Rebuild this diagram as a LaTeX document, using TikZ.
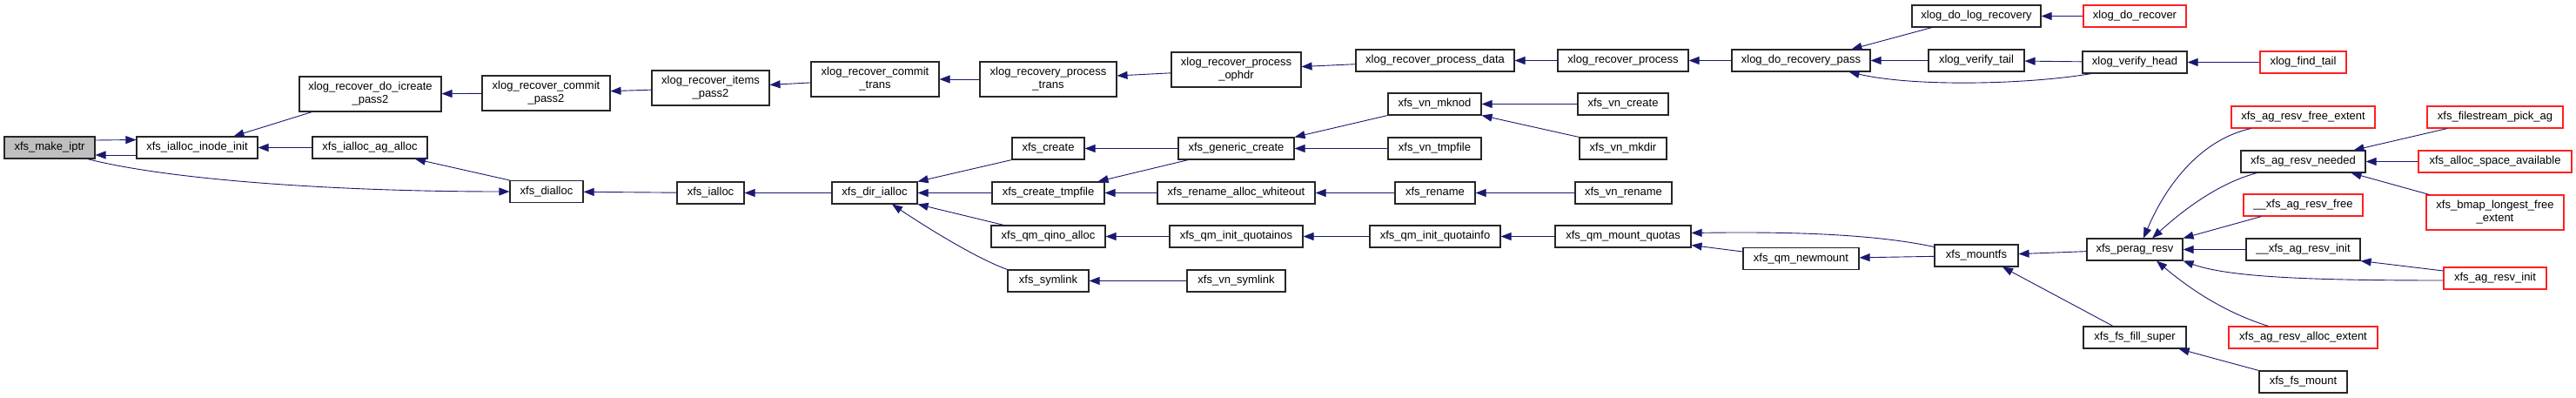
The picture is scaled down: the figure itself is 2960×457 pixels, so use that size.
\documentclass[tikz,border=0pt]{standalone}
\usepackage{fontspec}
\setmainfont{Liberation Sans}
\usetikzlibrary{arrows.meta}
\definecolor{edgeblue}{HTML}{191970}
\definecolor{boxred}{HTML}{FF2020}
\tikzset{
  fn/.style={draw=black!85, line width=1.1pt, minimum height=25pt, inner sep=0pt,
    align=center, font=\fontsize{13}{15}\selectfont},
  fnr/.style={fn, draw=boxred},
  w/.style={minimum width=#1pt},
  cedge/.style={edgeblue, line width=0.9pt, {Triangle[length=12pt,width=9pt]}-},
  cfwd/.style={edgeblue, line width=0.9pt, -{Triangle[length=12pt,width=9pt]}}
}
\begin{document}
\begin{tikzpicture}[x=1pt, y=-1pt]
  \useasboundingbox (0,0) rectangle (2960,457);
  % nodes, column by column
  \node[fn, w=104, fill=black!25] (make) at (57,169.5) {xfs\_make\_iptr};
  \node[fn, w=139] (inodeinit) at (226.5,169.5) {xfs\_ialloc\_inode\_init};
  \node[fn, w=163, minimum height=40pt] (icreate) at (425.5,108) {xlog\_recover\_do\_icreate\\\_pass2};
  \node[fn, w=132] (agalloc) at (425,169.5) {xfs\_ialloc\_ag\_alloc};
  \node[fn, w=147, minimum height=40pt] (commitpass) at (627.5,107) {xlog\_recover\_commit\\\_pass2};
  \node[fn, w=84] (dialloc) at (628,220) {xfs\_dialloc};
  \node[fn, w=135, minimum height=40pt] (itemspass) at (816.5,101) {xlog\_recover\_items\\\_pass2};
  \node[fn, w=77] (ialloc) at (816.5,221.5) {xfs\_ialloc};
  \node[fn, w=147, minimum height=40pt] (committrans) at (1005.5,91) {xlog\_recover\_commit\\\_trans};
  \node[fn, w=98] (dirialloc) at (1005,221.5) {xfs\_dir\_ialloc};
  \node[fn, w=157, minimum height=40pt] (proctrans) at (1204.5,91) {xlog\_recovery\_process\\\_trans};
  \node[fn, w=83] (create) at (1204.5,170.5) {xfs\_create};
  \node[fn, w=129] (tmpfile) at (1204.5,221.5) {xfs\_create\_tmpfile};
  \node[fn, w=131] (qino) at (1204.5,271.5) {xfs\_qm\_qino\_alloc};
  \node[fn, w=93] (symlink) at (1204.5,322.5) {xfs\_symlink};
  \node[fn, w=149, minimum height=40pt] (ophdr) at (1420.5,80) {xlog\_recover\_process\\\_ophdr};
  \node[fn, w=133] (generic) at (1420.5,170.5) {xfs\_generic\_create};
  \node[fn, w=181] (whiteout) at (1420.5,221.5) {xfs\_rename\_alloc\_whiteout};
  \node[fn, w=153] (quotainos) at (1420.5,271.5) {xfs\_qm\_init\_quotainos};
  \node[fn, w=113] (vnsymlink) at (1420.5,322.5) {xfs\_vn\_symlink};
  \node[fn, w=182] (procdata) at (1649,69.5) {xlog\_recover\_process\_data};
  \node[fn, w=107] (mknod) at (1648.5,119.5) {xfs\_vn\_mknod};
  \node[fn, w=107] (vntmpfile) at (1648.5,170.5) {xfs\_vn\_tmpfile};
  \node[fn, w=92] (rename) at (1649,221.5) {xfs\_rename};
  \node[fn, w=150] (quotainfo) at (1649,271.5) {xfs\_qm\_init\_quotainfo};
  \node[fn, w=150] (recproc) at (1865,69.5) {xlog\_recover\_process};
  \node[fn, w=104] (vncreate) at (1865,119.5) {xfs\_vn\_create};
  \node[fn, w=100] (vnmkdir) at (1865,170.5) {xfs\_vn\_mkdir};
  \node[fn, w=111] (vnrename) at (1865.5,221.5) {xfs\_vn\_rename};
  \node[fn, w=156] (mountquotas) at (1865,271.5) {xfs\_qm\_mount\_quotas};
  \node[fn, w=159] (recpass) at (2069.5,69.5) {xlog\_do\_recovery\_pass};
  \node[fn, w=133] (newmount) at (2069.5,297) {xfs\_qm\_newmount};
  \node[fn, w=148] (dologrec) at (2271,18.5) {xlog\_do\_log\_recovery};
  \node[fn, w=110] (vertail) at (2271,69.5) {xlog\_verify\_tail};
  \node[fn, w=96] (mountfs) at (2271,293.5) {xfs\_mountfs};
  \node[fnr, w=118] (dorecover) at (2453,18.5) {xlog\_do\_recover};
  \node[fn, w=120] (verhead) at (2453,71.5) {xlog\_verify\_head};
  \node[fn, w=110] (perag) at (2453,286.5) {xfs\_perag\_resv};
  \node[fn, w=118] (fillsuper) at (2453,387.5) {xfs\_fs\_fill\_super};
  \node[fnr, w=99] (findtail) at (2646.5,71.5) {xlog\_find\_tail};
  \node[fnr, w=165] (freeext) at (2646.5,134.5) {xfs\_ag\_resv\_free\_extent};
  \node[fn, w=143] (needed) at (2646.5,185.5) {xfs\_ag\_resv\_needed};
  \node[fnr, w=137] (rfree) at (2646.5,235.5) {\_\_xfs\_ag\_resv\_free};
  \node[fn, w=131] (rinit) at (2646.5,286.5) {\_\_xfs\_ag\_resv\_init};
  \node[fnr, w=171] (allocext) at (2646.5,387.5) {xfs\_ag\_resv\_alloc\_extent};
  \node[fn, w=101] (fsmount) at (2646.5,438.5) {xfs\_fs\_mount};
  \node[fnr, w=156] (filestream) at (2867,134.5) {xfs\_filestream\_pick\_ag};
  \node[fnr, w=176] (spaceavail) at (2867,185.5) {xfs\_alloc\_space\_available};
  \node[fnr, w=158, minimum height=40pt] (bmap) at (2867,244) {xfs\_bmap\_longest\_free\\\_extent};
  \node[fnr, w=118] (agresvinit) at (2867,319.5) {xfs\_ag\_resv\_init};

  % edges
  \draw[cfwd] ([yshift=8.5pt]make.east) -- ([yshift=9pt]inodeinit.west);
  \draw[cedge] ([yshift=-8.5pt]make.east) -- ([yshift=-8.5pt]inodeinit.west);
  \draw[cfwd] ([xshift=-9pt]make.south east) .. controls (200,208) and (400,220) .. (dialloc.west);
  \draw[cedge] ([xshift=42pt]inodeinit.north) -- ([xshift=-67pt]icreate.south);
  \draw[cedge] (inodeinit) -- (agalloc);
  \draw[cedge] ([xshift=52pt]agalloc.south) -- (dialloc.north west);
  \draw[cedge] (icreate) -- (commitpass);
  \draw[cedge] (commitpass) -- (itemspass);
  \draw[cedge] (itemspass) -- (committrans);
  \draw[cedge] (committrans) -- (proctrans);
  \draw[cedge] (proctrans) -- (ophdr);
  \draw[cedge] (ophdr) -- (procdata);
  \draw[cedge] (procdata) -- (recproc);
  \draw[cedge] (recproc) -- (recpass);
  \draw[cedge] ([xshift=58pt]recpass.north) -- ([xshift=-51pt]dologrec.south);
  \draw[cedge] (recpass) -- (vertail);
  \draw[cedge] ([xshift=55pt]recpass.south) .. controls (2200,100) and (2330,97) .. ([xshift=-50pt]verhead.south);
  \draw[cedge] (dologrec) -- (dorecover);
  \draw[cedge] (vertail) -- (verhead);
  \draw[cedge] (verhead) -- (findtail);
  \draw[cedge] (dialloc) -- (ialloc);
  \draw[cedge] (ialloc) -- (dirialloc);
  \draw[cedge] (dirialloc.north east) -- (create.south west);
  \draw[cedge] (dirialloc) -- (tmpfile);
  \draw[cedge] (dirialloc.south east) -- ([xshift=15pt]qino.north west);
  \draw[cedge] ([xshift=20pt]dirialloc.south) .. controls (1060,258) and (1120,296) .. (symlink.north west);
  \draw[cedge] (create) -- (generic);
  \draw[cedge] ([xshift=57pt]tmpfile.north) -- ([xshift=-55pt]generic.south);
  \draw[cedge] (tmpfile) -- (whiteout);
  \draw[cedge] (qino) -- (quotainos);
  \draw[cedge] (symlink) -- (vnsymlink);
  \draw[cedge] (generic.north east) -- (mknod.south west);
  \draw[cedge] (generic) -- (vntmpfile);
  \draw[cedge] (whiteout) -- (rename);
  \draw[cedge] (quotainos) -- (quotainfo);
  \draw[cedge] (mknod) -- (vncreate);
  \draw[cedge] (mknod.south east) -- (vnmkdir.north west);
  \draw[cedge] (rename) -- (vnrename);
  \draw[cedge] (quotainfo) -- (mountquotas);
  \draw[cedge] ([yshift=-10pt]mountquotas.east) -- ([yshift=8pt]newmount.west);
  \draw[cedge] ([yshift=4pt]mountquotas.east) .. controls (2050,266) and (2150,268) .. ([yshift=10pt]mountfs.west);
  \draw[cedge] (newmount) -- (mountfs);
  \draw[cedge] (mountfs) -- (perag);
  \draw[cedge] ([xshift=30pt]mountfs.south) -- ([xshift=-25pt]fillsuper.north);
  \draw[cedge] ([xshift=-9pt]fillsuper.south east) -- (fsmount.north west);
  \draw[cedge] ([xshift=10pt]perag.north) .. controls (2490,210) and (2530,160) .. ([xshift=-60pt]freeext.south);
  \draw[cedge] ([xshift=20pt]perag.north) .. controls (2510,240) and (2550,210) .. ([xshift=-53pt]needed.south);
  \draw[cedge] (perag.north east) -- ([xshift=-48pt]rfree.south);
  \draw[cedge] (perag) -- (rinit);
  \draw[cedge] (perag.south east) .. controls (2560,318) and (2650,322) .. ([yshift=-2.5pt]agresvinit.west);
  \draw[cedge] ([xshift=25pt]perag.south) .. controls (2520,335) and (2560,360) .. ([xshift=-40pt]allocext.north);
  \draw[cedge] ([xshift=58pt]needed.north) -- ([xshift=-55pt]filestream.south);
  \draw[cedge] (needed) -- (spaceavail);
  \draw[cedge] ([xshift=55pt]needed.south) -- ([xshift=4pt]bmap.north west);
  \draw[cedge] (rinit.south east) -- ([yshift=8.5pt]agresvinit.west);
\end{tikzpicture}
\end{document}
